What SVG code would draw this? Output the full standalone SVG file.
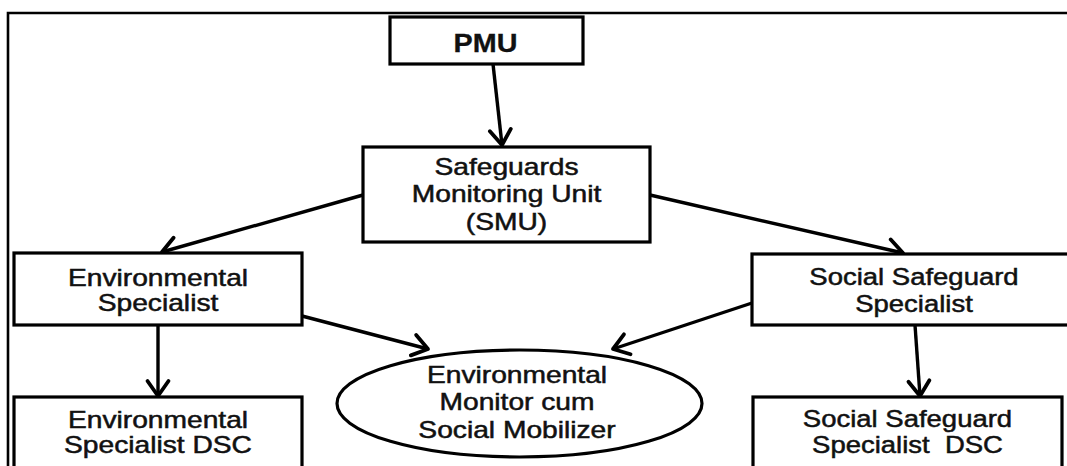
<svg xmlns="http://www.w3.org/2000/svg" width="1067" height="466" viewBox="0 0 1067 466">
<style>
.box{fill:#fff;stroke:#000;stroke-width:3.2}
.t{font-family:"Liberation Sans",Arial,sans-serif;font-size:23.5px;fill:#111;stroke:#111;stroke-width:0.5;text-anchor:middle}
.b{font-weight:bold;font-size:25px;stroke-width:0.3}
.c{fill:none;stroke:#000;stroke-width:3.4}
</style>
<defs>
<marker id="ah" markerUnits="userSpaceOnUse" markerWidth="30" markerHeight="30" refX="0" refY="0" orient="auto" style="overflow:visible">
<path d="M -15 -10.5 L 0 0 L -15 10.5" fill="none" stroke="#000" stroke-width="3.8" stroke-linecap="round" stroke-linejoin="round"/>
</marker>
</defs>
<rect width="1067" height="466" fill="#fff"/>
<path d="M 8 466 L 8 13 L 1067 13" fill="none" stroke="#000" stroke-width="2.6"/>
<g id="connectors">
<line class="c" x1="493" y1="64" x2="502" y2="145" marker-end="url(#ah)"/>
<line class="c" x1="363" y1="195" x2="162" y2="252" marker-end="url(#ah)"/>
<line class="c" x1="650" y1="195" x2="903" y2="253" marker-end="url(#ah)"/>
<line class="c" x1="302" y1="316" x2="428" y2="349" marker-end="url(#ah)"/>
<line class="c" x1="752" y1="303" x2="613" y2="349" marker-end="url(#ah)"/>
<line class="c" x1="158" y1="325" x2="158" y2="396" marker-end="url(#ah)"/>
<line class="c" x1="915" y1="325" x2="920" y2="396" marker-end="url(#ah)"/>
</g>
<g id="pmu">
<rect class="box" x="390" y="17" width="193" height="47"/>
<text class="t b" transform="translate(485.5 0) scale(1.15 1)"><tspan x="0" y="52">PMU</tspan></text>
</g>
<g id="smu">
<rect class="box" x="363" y="147" width="287" height="95"/>
<text class="t" transform="translate(506.5 0) scale(1.2 1)"><tspan x="0" y="175">Safeguards</tspan><tspan x="0" y="202.5">Monitoring Unit</tspan><tspan x="0" y="230">(SMU)</tspan></text>
</g>
<g id="env-specialist">
<rect class="box" x="14" y="253" width="288" height="72"/>
<text class="t" transform="translate(158 0) scale(1.2 1)"><tspan x="0" y="286">Environmental</tspan><tspan x="0" y="311.5">Specialist</tspan></text>
</g>
<g id="social-specialist">
<rect class="box" x="752" y="254" width="330" height="71"/>
<text class="t" transform="translate(914 0) scale(1.17 1)"><tspan x="0" y="285">Social Safeguard</tspan><tspan x="0" y="312">Specialist</tspan></text>
</g>
<g id="monitor">
<ellipse class="box" cx="519.5" cy="403.5" rx="182.5" ry="53.5"/>
<text class="t" transform="translate(517 0) scale(1.2 1)"><tspan x="0" y="383">Environmental</tspan><tspan x="0" y="410">Monitor cum</tspan><tspan x="0" y="438">Social Mobilizer</tspan></text>
</g>
<g id="env-dsc">
<rect class="box" x="14" y="397" width="288" height="80"/>
<text class="t" transform="translate(158 0) scale(1.2 1)"><tspan x="0" y="428">Environmental</tspan><tspan x="0" y="453">Specialist DSC</tspan></text>
</g>
<g id="social-dsc">
<rect class="box" x="753" y="397" width="309" height="80"/>
<text class="t" transform="translate(907.5 0) scale(1.17 1)" xml:space="preserve"><tspan x="0" y="427">Social Safeguard</tspan><tspan x="0" y="453">Specialist  DSC</tspan></text>
</g>
</svg>
